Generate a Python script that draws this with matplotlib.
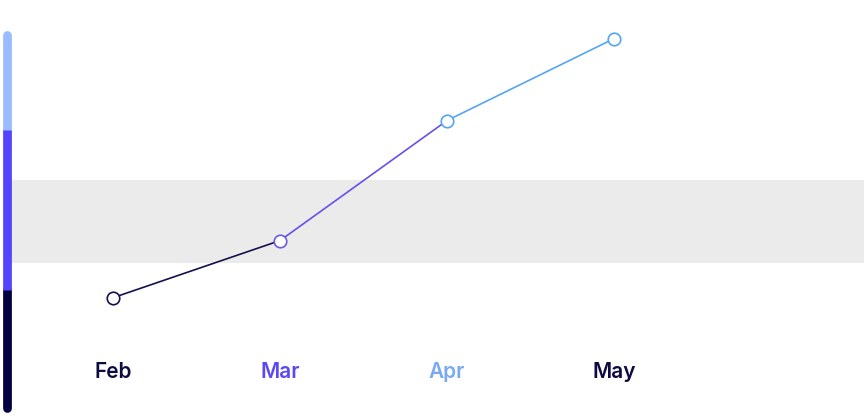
import matplotlib
matplotlib.use("Agg")
import matplotlib.pyplot as plt

months = ["Feb", "Mar", "Apr", "May"]
values = [30, 45, 76.5, 98]
segment_colors = ["#14124a", "#6650ee", "#55a5f2"]
marker_colors = ["#14124a", "#6a5ae0", "#55a5f2", "#55a5f2"]
label_colors = ["#0d0b40", "#5a48f5", "#7aaaf5", "#0d0b40"]
band_range = [39, 61]
bar_thresholds = [0, 32, 74, 100]
bar_colors = ["#03003f", "#5544ff", "#99bbff"]

fig = plt.figure(figsize=(8.64, 4.17), dpi=100)
ax = fig.add_axes([0, 0, 1, 1])
ax.set_xlim(-0.677, 4.497)
ax.set_ylim(-1.31, 108.14)
ax.axis("off")

# gray band
ax.axhspan(band_range[0], band_range[1], xmin=10 / 864, xmax=1, color="#ebebeb", lw=0, zorder=0)

# left colour bar
bx = -0.638
lw_bar = 6.3
cap = 1.1
ax.plot([bx, bx], [bar_thresholds[2], bar_thresholds[3] - cap], color=bar_colors[2],
        lw=lw_bar, solid_capstyle="round", zorder=1)
ax.plot([bx, bx], [bar_thresholds[0] + cap, bar_thresholds[1]], color=bar_colors[0],
        lw=lw_bar, solid_capstyle="round", zorder=1)
ax.plot([bx, bx], [bar_thresholds[1], bar_thresholds[2]], color=bar_colors[1],
        lw=lw_bar, solid_capstyle="butt", zorder=2)

# line segments
xs = list(range(len(months)))
for i in range(len(months) - 1):
    ax.plot(xs[i:i + 2], values[i:i + 2], color=segment_colors[i], lw=1.2, zorder=3,
            solid_capstyle="butt")
for i in range(len(months)):
    ax.plot(xs[i], values[i], marker="o", ms=9, mfc="white", mec=marker_colors[i],
            mew=1.2, zorder=4)

# month labels
for i, m in enumerate(months):
    ax.text(xs[i], 10.5, m, ha="center", va="center", fontsize=15, fontweight="semibold",
            family=["Inter", "DejaVu Sans"], color=label_colors[i])

fig.savefig("out.png", dpi=100)
